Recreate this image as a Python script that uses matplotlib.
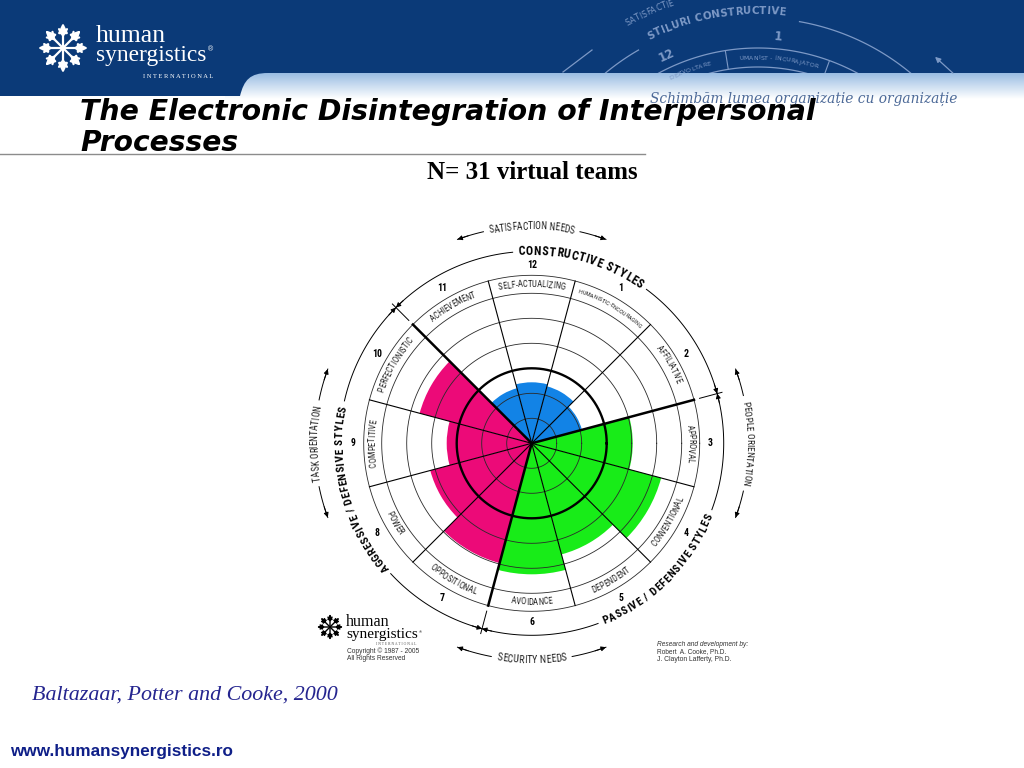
#!/usr/bin/env python3
"""
Human Synergistics circumplex slide - N = 31 virtual teams
"""

import numpy as np
import matplotlib
matplotlib.use('Agg')
import matplotlib.pyplot as plt
from matplotlib import font_manager
from matplotlib.font_manager import FontProperties, findfont, get_font
from matplotlib.textpath import TextToPath
from matplotlib.path import Path
from matplotlib.patches import PathPatch, Rectangle

DPI = 100
W, H = 1024, 768

# ---- data (radius in ring units, bold ring = 3) ----
style_numbers = [1, 2, 3, 4, 5, 6, 7, 8, 9, 10, 11, 12]
style_names = ['HUMANISTIC-ENCOURAGING', 'AFFILIATIVE', 'APPROVAL', 'CONVENTIONAL',
               'DEPENDENT', 'AVOIDANCE', 'OPPOSITIONAL', 'POWER', 'COMPETITIVE',
               'PERFECTIONISTIC', 'ACHIEVEMENT', 'SELF-ACTUALIZING']
style_scores = [2.36, 2.08, 4.04, 5.36, 4.60, 5.24, 4.96, 4.20, 3.40, 4.64, 2.28, 2.44]
style_cluster = ['constructive', 'constructive', 'passive', 'passive', 'passive', 'passive',
                 'aggressive', 'aggressive', 'aggressive', 'aggressive',
                 'constructive', 'constructive']
cluster_colors = {'constructive': '#1283E6', 'passive': '#18EC18', 'aggressive': '#EC0A78'}
ring_levels = [1, 2, 3, 4, 5, 6]

cluster_labels = ['CONSTRUCTIVE STYLES', 'PASSIVE / DEFENSIVE STYLES', 'AGGRESSIVE / DEFENSIVE STYLES']
needs_labels = ['SATISFACTION NEEDS', 'PEOPLE ORIENTATION', 'SECURITY NEEDS', 'TASK ORIENTATION']

PX = 25.0            # pixels per ring unit
CX, CY = 531.7, 443.3
BAND_OUT = 6.72

ttf = font_manager.fontManager.ttflist
names = {f.name for f in ttf}


def pick_narrow():
    for nm in ['Liberation Sans Narrow', 'Roboto Condensed', 'Open Sans Condensed',
               'Noto Sans Condensed', 'DejaVu Sans Condensed', 'Arial Narrow']:
        if nm in names:
            return nm, 'normal'
    for fam in ['DejaVu Sans', 'Noto Sans', 'Open Sans', 'Roboto']:
        for f in ttf:
            if f.name == fam and 'condensed' in str(f.stretch):
                return fam, 'condensed'
    return 'DejaVu Sans', 'normal'


NARROW, NSTRETCH = pick_narrow()
SERIF = 'Liberation Serif' if 'Liberation Serif' in names else 'DejaVu Serif'
SANS = 'Liberation Sans' if 'Liberation Sans' in names else 'DejaVu Sans'

_t2p = TextToPath()
BIG = 200.0


def text_width_px(s, fp):
    w, h, d = _t2p.get_text_width_height_descent(s, fp, ismath=False)
    return w * DPI / 72.0


def char_metrics(s, fp, track):
    """Advance and ink-centre offset of each character, in pixels (measured large)."""
    size = fp.get_size_in_points()
    font = get_font(findfont(fp))
    font.set_size(BIG, 72)
    k = DPI / 72.0 * size / BIG
    em = size * DPI / 72.0
    adv, mid = [], []
    for c in s:
        g = font.load_char(ord(c))
        a = g.linearHoriAdvance / 65536.0 * k
        m = (g.horiBearingX + g.width / 2.0) / 64.0 * k if c != ' ' else a / 2
        adv.append(a + track * em)
        mid.append(m + track * em / 2)
    return np.array(adv), np.array(mid)


def arc_text(ax, s, r_px, theta_c, xy_fn, top=True, family=None, weight='normal',
             style='normal', stretch=None, size=None, span=None, color='black', track=0.02,
             zorder=6):
    """Place characters of s along an arc of radius r_px centred on theta_c (deg)."""
    if family is None:
        family, stretch = NARROW, NSTRETCH
    stretch = stretch or 'normal'
    fp10 = FontProperties(family=family, weight=weight, style=style, stretch=stretch, size=10)
    adv10, _ = char_metrics(s, fp10, track)
    tot10 = adv10.sum()
    if span is not None and (size is None or tot10 * size / 10 > span):
        size = 10 * span / tot10
    fp = FontProperties(family=family, weight=weight, style=style, stretch=stretch, size=size)
    adv, mid = char_metrics(s, fp, track)
    tot = adv.sum()
    off = np.cumsum(adv) - adv + mid - tot / 2
    d = np.degrees(off / r_px)
    th = theta_c - d if top else theta_c + d
    rot = th - 90 if top else th + 90
    arts = []
    for c, t, ro in zip(s, th, rot):
        if c == ' ':
            continue
        x, y = xy_fn(t)
        arts.append(ax.text(x, y, c, rotation=ro % 360, rotation_mode='anchor',
                            ha='center', va='center', fontsize=size, family=family,
                            weight=weight, style=style, stretch=stretch, color=color,
                            zorder=zorder))
    return np.degrees(tot / 2 / r_px), arts


def polar_xy(r_units):
    return lambda t: (np.radians(t), r_units)


def fit_text(ax, x, y, s, width, family, weight='normal', style='normal', color='black',
             ha='left', va='baseline', zorder=5):
    fp = FontProperties(family=family, weight=weight, style=style, size=10)
    size = 10 * width / text_width_px(s, fp)
    return ax.text(x, y, s, fontsize=size, family=family, weight=weight, style=style,
                   color=color, ha=ha, va=va, zorder=zorder)


def draw_star(ax, cx, cy, rad, color, lw):
    for k in range(8):
        a = np.radians(90 + 45 * k)
        ux, uy = np.cos(a), -np.sin(a)
        ax.annotate('', xy=(cx + rad * ux, cy + rad * uy), xytext=(cx, cy),
                    arrowprops=dict(arrowstyle='-|>', color=color, lw=lw,
                                    mutation_scale=rad * 0.55, shrinkA=0, shrinkB=0),
                    zorder=6)
        for s in (-1, 1):
            b = a + s * np.radians(32)
            px0, py0 = cx + 0.5 * rad * ux, cy + 0.5 * rad * uy
            ax.plot([px0, px0 + 0.3 * rad * np.cos(b)], [py0, py0 - 0.3 * rad * np.sin(b)],
                    color=color, lw=lw, zorder=6, solid_capstyle='round')


fig = plt.figure(figsize=(W / DPI, H / DPI), dpi=DPI)
bg = fig.add_axes([0, 0, 1, 1])
bg.set_xlim(0, W)
bg.set_ylim(H, 0)
bg.axis('off')

# ---- header band ----
HEAD = '#0B3A78'
grad = np.linspace(0, 1, 64)[:, None]
c_top = np.array([0.60, 0.74, 0.89])
img = c_top[None, None, :] * (1 - grad[:, :, None]) + np.ones(3)[None, None, :] * grad[:, :, None]
bg.imshow(img, extent=[225, W, 99, 73], aspect='auto', zorder=1, interpolation='bilinear')
verts = [(0, 0), (W, 0), (W, 73), (268, 73), (250, 73), (244, 80), (240, 96), (0, 96), (0, 0)]
codes = [Path.MOVETO, Path.LINETO, Path.LINETO, Path.LINETO, Path.CURVE4, Path.CURVE4,
         Path.CURVE4, Path.LINETO, Path.CLOSEPOLY]
bg.add_patch(PathPatch(Path(verts, codes), facecolor=HEAD, edgecolor='none', zorder=2))

# faint circumplex watermark in the header
WM = '#7d99c6'
clip = Rectangle((0, 0), W, 73, transform=bg.transData)
wcx, wcy = 758, 257


def wm_xy(r):
    return lambda t: (wcx + r * np.cos(np.radians(t)), wcy - r * np.sin(np.radians(t)))


wm_arts = []
for r, a0, a1 in [(239, 50, 80), (239, 120, 130), (209, 60, 120), (190, 75, 105)]:
    tt = np.linspace(a0, a1, 100)
    x, y = wm_xy(r)(tt)
    wm_arts += bg.plot(x, y, color=WM, lw=0.9, zorder=3)
for t in (99, 70):
    x, y = wm_xy(np.array([190, 209]))(t)
    wm_arts += bg.plot(x, y, color=WM, lw=0.8, zorder=3)
wm_arts += arc_text(bg, 'STILURI CONSTRUCTIVE', 246, 100, wm_xy(246), weight='bold',
                    family='DejaVu Sans', span=142, color=WM, zorder=3)[1]
wm_arts += arc_text(bg, 'SATISFACTIE', 268, 114, wm_xy(268), family='DejaVu Sans',
                    span=52, color=WM, zorder=3)[1]
wm_arts += arc_text(bg, 'UMANIST - ÎNCURAJATOR', 199, 84, wm_xy(199), family='DejaVu Sans',
                    span=80, color=WM, zorder=3)[1]
wm_arts += arc_text(bg, 'DEZVOLTARE', 199, 110, wm_xy(199), family='DejaVu Sans',
                    span=44, color=WM, zorder=3)[1]
for s, r, t in [('12', 221, 114.5), ('1', 221, 84.8)]:
    x, y = wm_xy(r)(t)
    wm_arts.append(bg.text(x, y, s, rotation=t - 90, ha='center', va='center', fontsize=8.5,
                           weight='bold', color=WM, zorder=3))
wm_arts += bg.plot([563, 592], [72, 50], color=WM, lw=0.9, zorder=3)
bg.annotate('', xy=(933, 55), xytext=(955, 75),
            arrowprops=dict(arrowstyle='-|>', color=WM, lw=0.9, mutation_scale=8), zorder=3)
for a in wm_arts:
    a.set_clip_path(clip)

# header logo
draw_star(bg, 63, 48, 25, 'white', 1.6)
fit_text(bg, 96, 42, 'human', 70, SERIF, color='white')
fit_text(bg, 96, 61, 'synergistics', 110, SERIF, color='white')
bg.text(208, 51, '®', fontsize=5, color='white', family=SANS)
fit_text(bg, 143, 78, 'I N T E R N A T I O N A L', 70, SERIF, color='white')

fit_text(bg, 650, 103, 'Schimbăm lumea organizație cu organizație', 308, 'DejaVu Serif',
         style='italic', color='#4d6a98')

# ---- titles ----
fit_text(bg, 80, 120, 'The Electronic Disintegration of Interpersonal', 735, 'DejaVu Sans',
         weight='bold', style='italic')
fit_text(bg, 80, 151, 'Processes', 158, 'DejaVu Sans', weight='bold', style='italic')
bg.plot([0, 645], [153.5, 153.5], color='#8c8c8c', lw=1.0, zorder=4)
fit_text(bg, 532, 179, 'N= 31 virtual teams', 211, SERIF, weight='bold', ha='center')

fit_text(bg, 32, 700, 'Baltazaar, Potter and Cooke, 2000', 306, SERIF, style='italic',
         color='#25258f')
fit_text(bg, 10, 756, 'www.humansynergistics.ro', 222, SANS, weight='bold', color='#0f1f88')

# small logo and credits inside the chart artwork
draw_star(bg, 330, 627, 13, 'black', 1.0)
fit_text(bg, 346, 626, 'human', 44, SERIF)
fit_text(bg, 346, 638, 'synergistics', 72, SERIF)
bg.text(419, 633, '®', fontsize=3, family=SANS)
fit_text(bg, 376, 645, 'I N T E R N A T I O N A L', 41, SERIF, color='#555555')
fit_text(bg, 347, 653, 'Copyright © 1987 - 2005', 72, SANS, color='#333333')
fit_text(bg, 347, 660, 'All Rights Reserved', 58, SANS, color='#333333')
fit_text(bg, 657, 646, 'Research and development by:', 92, SANS, style='italic', color='#333333')
fit_text(bg, 657, 653, 'Robert  A. Cooke, Ph.D.', 70, SANS, color='#333333')
fit_text(bg, 657, 661, 'J. Clayton Lafferty, Ph.D.', 74, SANS, color='#333333')

# ---- circumplex ----
R_AX = 260
axp = fig.add_axes([(CX - R_AX) / W, (H - CY - R_AX) / H, 2 * R_AX / W, 2 * R_AX / H],
                   projection='polar')
axp.set_ylim(0, R_AX / PX)
axp.axis('off')

centers = 90 - 30 * np.array(style_numbers)
axp.bar(np.radians(centers), style_scores, width=np.radians(30), align='center',
        color=[cluster_colors[c] for c in style_cluster], edgecolor='none', zorder=1)

tt = np.linspace(0, 2 * np.pi, 721)
for lv in ring_levels + [BAND_OUT]:
    bold = lv == 3
    axp.plot(tt, np.full_like(tt, lv), color='black' if bold else '#2a2a2a',
             lw=1.7 if bold else 0.6, zorder=3 if not bold else 4)

bold_bounds = [15, 135, 255]
for b in 15 + 30 * np.arange(12):
    bold = b in bold_bounds
    axp.plot([np.radians(b)] * 2, [0, BAND_OUT], color='black',
             lw=1.8 if bold else 0.8, zorder=4 if bold else 3)
    if bold:
        axp.plot([np.radians(b)] * 2, [6.95, 7.88], color='black', lw=0.7, zorder=3)

# style names in the label band and numbers outside
for n, name, t in zip(style_numbers, style_names, centers):
    tn = t % 360
    arc_text(axp, name, 6.36 * PX, t, polar_xy(6.36), top=tn <= 180, size=6.2, span=72,
             color='#222222', track=0.0)
    axp.text(np.radians(t), 7.15, str(n), ha='center', va='center', fontsize=7,
             family=NARROW, stretch=NSTRETCH, weight='bold', zorder=6)


def arc_line(ax, a_head, a_free, r, head=True):
    tt = np.radians(np.linspace(a_head, a_free, 120))
    ax.plot(tt, np.full_like(tt, r), color='black', lw=0.7, zorder=3)
    if head:
        step = 3.0 if a_free > a_head else -3.0
        ax.annotate('', xy=(np.radians(a_head), r), xytext=(np.radians(a_head + step), r),
                    arrowprops=dict(arrowstyle='-|>', color='black', lw=0.7,
                                    mutation_scale=7, shrinkA=0, shrinkB=0), zorder=5)


# cluster arcs (bold labels), each runs tick to tick with arrowheads at the ticks
R_ST = 7.68
cluster_geom = [(74.5, 132, True, 135, 15), (-45, 156, False, 15, -105),
                (195, 176, True, 255, 135)]
for lab, (tc, span, top, a_start, a_end) in zip(cluster_labels, cluster_geom):
    half, _ = arc_text(axp, lab, R_ST * PX, tc, polar_xy(R_ST), top=top, weight='bold',
                       span=span, track=0.06)
    lo, hi = tc - half - 1.5, tc + half + 1.5
    if a_start > a_end:
        arc_line(axp, a_start, hi, R_ST)
        arc_line(axp, a_end, lo, R_ST)
    else:
        arc_line(axp, a_start, lo, R_ST)
        arc_line(axp, a_end, hi, R_ST)

# needs / orientation arrows
R_ND = 8.68
needs_geom = [(90, 86, True), (0, 85, True), (270, 70, False), (180, 76, True)]
for lab, (tc, span, top) in zip(needs_labels, needs_geom):
    half, _ = arc_text(axp, lab, R_ND * PX, tc, polar_xy(R_ND), top=top, span=span,
                       track=0.0, color='#222222')
    arc_line(axp, tc + 20, tc + half + 1.5, R_ND)
    arc_line(axp, tc - 20, tc - half - 1.5, R_ND)

fig.savefig('out.png', dpi=DPI)
